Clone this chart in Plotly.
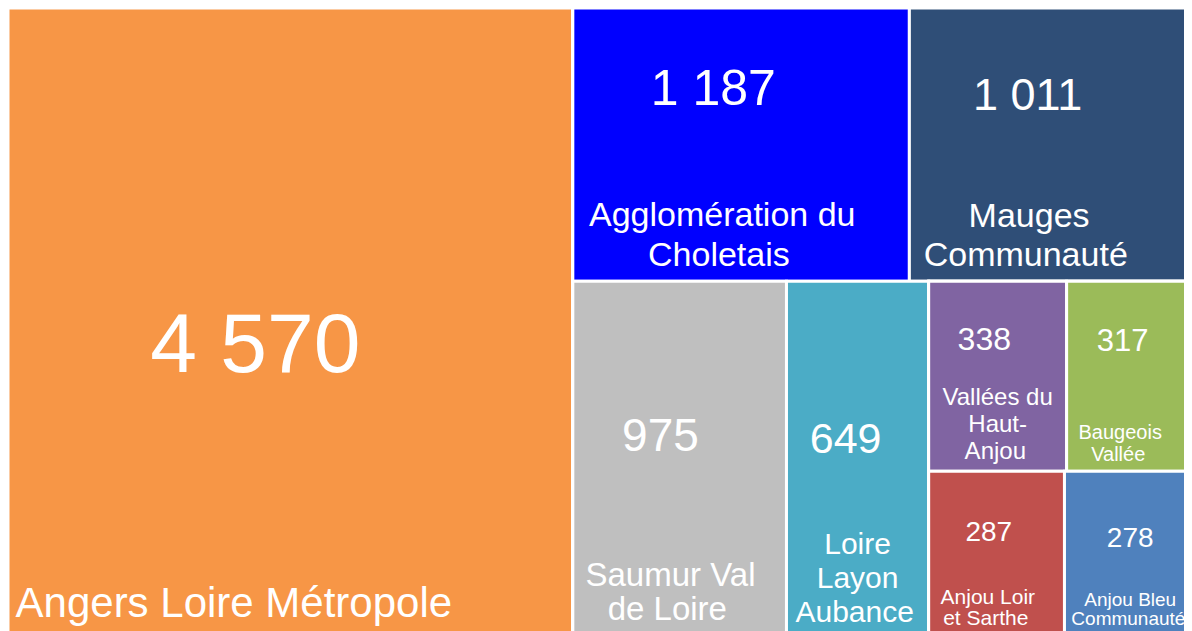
import plotly.graph_objects as go

# --- data ---
labels = ["Angers Loire Métropole", "Agglomération du Choletais", "Mauges Communauté",
          "Saumur Val de Loire", "Loire Layon Aubance", "Vallées du Haut-Anjou",
          "Baugeois Vallée", "Anjou Loir et Sarthe", "Anjou Bleu Communauté"]
display = ["Angers Loire Métropole", "Agglomération du<br>Choletais", "Mauges<br>Communauté",
           "Saumur Val<br>de Loire", "Loire<br>Layon<br>Aubance", "Vallées du<br>Haut-<br>Anjou",
           "Baugeois<br>Vallée", "Anjou Loir<br>et Sarthe", "Anjou Bleu<br>Communauté"]
values = [4570, 1187, 1011, 975, 649, 338, 317, 287, 278]
colors = ["#F79646", "#0000FF", "#2F4E77", "#BFBFBF", "#4BACC6", "#8064A2",
          "#9BBB59", "#C0504D", "#4F81BD"]

# --- layout grouping (unlabelled blocks used only to arrange the tiles) ---
item_parents = ["root", "top", "top", "bottom", "bottom", "row1", "row1", "row2", "row2"]
group_ids = ["root", "right", "top", "bottom", "small", "row1", "row2"]
group_parents = ["", "root", "right", "right", "bottom", "small", "small"]

# --- text styling ---
value_sizes = [84, 50, 45, 46, 43, 32, 31, 28, 28]
label_sizes = [42, 34, 34, 33, 30, 24, 20, 21, 19]
line_bases = [37.7, 31, 30, 26, 26, 21, 17, 16, 15]   # controls line spacing
gaps = [5, 3, 3, 4, 3, 2, 4, 3, 3]
value_nudge = [3, 4, 4, 3, 2, 3, 2, 2, 0]              # trailing spaces (shift left)
label_nudge = [9, 4, 5, 2, 0, 0, 4, 3, 0]

NB = "\u00a0"


def make_template(disp, vs, ls, g, vn, ln):
    val = '<span style="font-size:%spx">%%{value:,}%s</span>' % (vs, NB * vn)
    parts = disp.split("<br>")
    lines = []
    for i, t in enumerate(parts):
        tail = "<sub>" + NB + "</sub>" if i == len(parts) - 1 else ""
        lines.append('<span style="font-size:%spx">%s%s%s</span>' % (ls, t, NB * ln, tail))
    return val + "<br>" * g + "<br>".join(lines)


n_g = len(group_ids)
ids = labels + group_ids
all_labels = labels + [""] * n_g
parents = item_parents + group_parents
all_values = values + [0] * n_g
all_colors = colors + ["white"] * n_g
templates = [make_template(*a) for a in zip(display, value_sizes, label_sizes, gaps,
                                             value_nudge, label_nudge)] + [""] * n_g
sizes = line_bases + [12] * n_g

fig = go.Figure(go.Treemap(
    ids=ids,
    labels=all_labels,
    parents=parents,
    values=all_values,
    branchvalues="remainder",
    texttemplate=templates,
    textfont=dict(family="Liberation Sans, Arial", color="white", size=sizes),
    marker=dict(colors=all_colors, line=dict(color="white", width=3),
                pad=dict(t=0, l=0, r=0, b=0)),
    textposition="bottom center",
    sort=False,
    tiling=dict(packing="slice-dice", pad=0),
    pathbar=dict(visible=False),
    hoverinfo="label+value",
))
fig.update_layout(
    width=1188, height=627,
    margin=dict(l=0, r=0, t=0, b=0),
    separators=", ",
    paper_bgcolor="white",
)
fig.write_html("out.html")
